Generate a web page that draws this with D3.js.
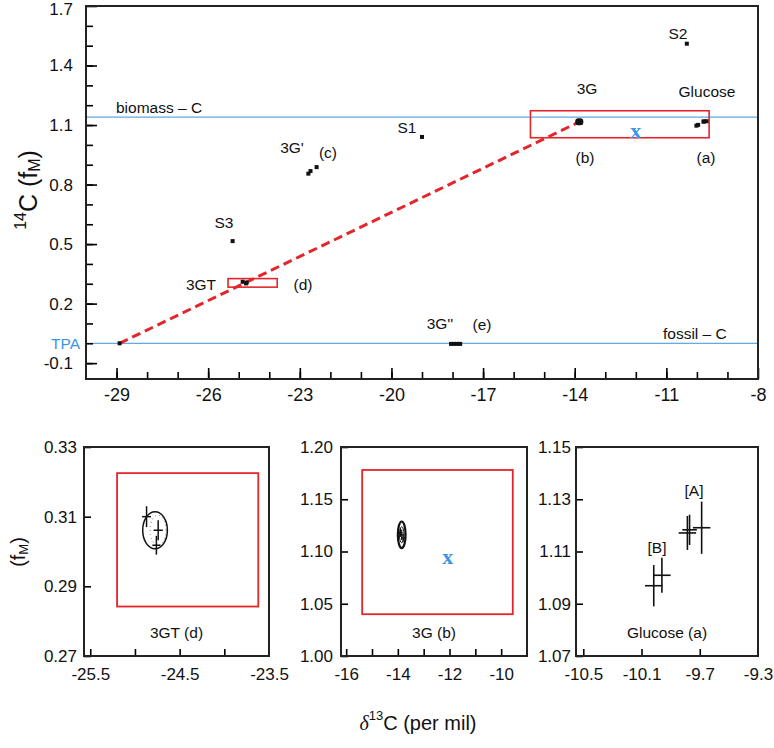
<!DOCTYPE html>
<html><head><meta charset="utf-8">
<script src="https://cdn.jsdelivr.net/npm/d3@7"></script>
<style>
body{margin:0;background:#fff}
svg text{font-family:"Liberation Sans",Arial,sans-serif;fill:#111}
</style>
</head><body>
<svg id="chart" width="774" height="748"></svg>
<script>
// ---------------- DATA ----------------
// main panel: [delta13C, 14C fM]
const tpaPts      = [[-28.9, 0.000]];
const s1Pts       = [[-19.0, 1.040]];
const s2Pts       = [[-10.33, 1.510]];
const s3Pts       = [[-25.2, 0.515]];
const g3PrimePts  = [[-22.72, 0.855], [-22.65, 0.868], [-22.45, 0.888]];
const g3DPrimePts = [[-18.05, -0.003], [-17.95, -0.003], [-17.85, -0.003], [-17.75, -0.003]];
const gt3Pts      = [[-24.87, 0.3100], [-24.74, 0.3061], [-24.76, 0.3018]];
const gt3ErrX     = [0.05, 0.052, 0.045];
const gt3ErrY     = [0.0030, 0.0029, 0.0027];
const g3Pts       = [[-13.90, 1.118], [-13.85, 1.116], [-13.80, 1.113]];
const g3ErrX      = [0.08, 0.1, 0.08];
const g3ErrY      = [0.004, 0.005, 0.004];
const glucosePts  = [[-10.016, 1.0969], [-9.96, 1.1009], [-9.785, 1.1171], [-9.77, 1.1183], [-9.687, 1.1191]];
const glucoseErrX = [0.06, 0.06, 0.06, 0.05, 0.06];
const glucoseErrY = [0.0079, 0.0067, 0.0065, 0.0058, 0.0100];

const refLines    = [{name: "biomass – C", value: 1.14}, {name: "fossil – C", value: 0.0}];
const mixingLine  = [[-28.9, 0.000], [-13.85, 1.116]];
const mainBoxes   = [[-25.35, -23.74, 0.283, 0.326], [-15.45, -9.6, 1.036, 1.172]];
const blendMain   = [-12.0, 1.071];
const blendInset  = [-12.07, 1.095];

const gt3Ellipse  = {cx: -24.775, cy: 0.3061, rx: 0.138, ry: 0.0053};
const g3Ellipse   = {cx: -13.85, cy: 1.116, rx: 0.15, ry: 0.0127};
const gt3InsetBox = [-25.2, -23.62, 0.2842, 0.3225];
const g3InsetBox  = [-15.38, -9.55, 1.04, 1.178];

// tick values
const mainXTicks  = [-29, -26, -23, -20, -17, -14, -11, -8];
const mainYTicks  = [-0.1, 0.2, 0.5, 0.8, 1.1, 1.4, 1.7];
const p1XTicks = [-25.5, -24.5, -23.5], p1XMinor = [-25.5, -25, -24.5, -24];
const p1YTicks = [0.27, 0.29, 0.31, 0.33];
const p2XTicks = [-16, -14, -12, -10], p2XMinor = [-16, -15, -14, -13, -12, -11, -10];
const p2YTicks = [1.00, 1.05, 1.10, 1.15, 1.20];
const p3XTicks = [-10.5, -10.1, -9.7, -9.3];
const p3YTicks = [1.07, 1.09, 1.11, 1.13, 1.15];

// ---------------- DRAW ----------------
const svg = d3.select("#chart");
const RED = "#e3262b", BLUE = "#3b93d8", BLUETXT = "#3d95e6";
const fmt = spec => { const f = d3.format(spec); return d => f(d).replace("−", "-"); };

// ===== main panel =====
const mx = d3.scaleLinear().domain([-30, -8]).range([86, 758]);
const my = d3.scaleLinear().domain([-0.18, 1.7]).range([379, 6]);
const main = svg.append("g");

// reference lines
main.selectAll("line.ref").data(refLines).join("line")
  .attr("x1", mx(-30)).attr("x2", mx(-8))
  .attr("y1", d => my(d.value)).attr("y2", d => my(d.value))
  .attr("stroke", BLUE).attr("stroke-width", 1);

// axes - minor
main.append("g").attr("transform", `translate(0,${my(-0.18)})`)
  .call(d3.axisBottom(mx).tickValues(d3.range(-29, -8, 1)).tickSize(-7).tickFormat(""))
  .call(g => g.select(".domain").remove())
  .selectAll("line").attr("stroke-width", 1.6);
main.append("g").attr("transform", `translate(${mx(-30)},0)`)
  .call(d3.axisLeft(my).tickValues(d3.range(-0.1, 1.7, 0.1)).tickSize(-7).tickFormat(""))
  .call(g => g.select(".domain").remove())
  .selectAll("line").attr("stroke-width", 1.6);
// major
const mxa = main.append("g").attr("transform", `translate(0,${my(-0.18)})`)
  .call(d3.axisBottom(mx).tickValues(mainXTicks).tickSize(-11).tickPadding(9).tickFormat(fmt("d")));
mxa.select(".domain").remove();
mxa.selectAll("line").attr("stroke-width", 1.6);
mxa.selectAll("text").attr("font-size", 18).attr("fill", "#111");
const mya = main.append("g").attr("transform", `translate(${mx(-30)},0)`)
  .call(d3.axisLeft(my).tickValues(mainYTicks).tickSize(-11).tickPadding(13).tickFormat(fmt(".1f")));
mya.select(".domain").remove();
mya.selectAll("line").attr("stroke-width", 1.6);
mya.selectAll("text").attr("font-size", 17).attr("fill", "#111")
  .filter(d => d === 1.7).attr("dy", "0.5em");
// frame
main.append("rect").attr("x", mx(-30)).attr("y", my(1.7))
  .attr("width", mx(-8) - mx(-30)).attr("height", my(-0.18) - my(1.7))
  .attr("fill", "none").attr("stroke", "#222").attr("stroke-width", 2);

// red boxes
main.selectAll("rect.box").data(mainBoxes).join("rect")
  .attr("x", d => mx(d[0])).attr("y", d => my(d[3]))
  .attr("width", d => mx(d[1]) - mx(d[0])).attr("height", d => my(d[2]) - my(d[3]))
  .attr("fill", "none").attr("stroke", RED).attr("stroke-width", 1.6);

// mixing line
main.append("path").datum(mixingLine)
  .attr("d", d3.line().x(d => mx(d[0])).y(d => my(d[1])))
  .attr("stroke", RED).attr("stroke-width", 3).attr("stroke-dasharray", "9,5").attr("fill", "none");

// points
const allMain = [].concat(tpaPts, s1Pts, s2Pts, s3Pts, g3PrimePts, g3DPrimePts, gt3Pts, g3Pts, glucosePts);
main.selectAll("rect.pt").data(allMain).join("rect")
  .attr("x", d => mx(d[0]) - 2).attr("y", d => my(d[1]) - 2)
  .attr("width", 4).attr("height", 4).attr("fill", "#111");
main.append("rect").attr("x", mx(g3Pts[1][0]) - 4).attr("y", my(g3Pts[1][1]) - 3.5)
  .attr("width", 8).attr("height", 7).attr("rx", 3).attr("fill", "#111");

// blend X
main.append("text").attr("x", mx(blendMain[0])).attr("y", my(blendMain[1]))
  .attr("text-anchor", "middle").attr("dominant-baseline", "central")
  .style("font-family", "'Liberation Serif',serif").style("font-weight", "bold")
  .style("fill", BLUETXT).attr("font-size", 22).text("x");

// labels
const mainLabels = [
  {t: "biomass – C", x: 116, y: 107, a: "start"},
  {t: "fossil – C", x: 663, y: 333, a: "start"},
  {t: "S3", x: 224, y: 222, a: "middle"},
  {t: "3GT", x: 201, y: 284, a: "middle"},
  {t: "(d)", x: 303, y: 284, a: "middle"},
  {t: "3G'", x: 292, y: 147, a: "middle"},
  {t: "(c)", x: 328, y: 152, a: "middle"},
  {t: "S1", x: 407, y: 127, a: "middle"},
  {t: "3G", x: 587, y: 88, a: "middle"},
  {t: "(b)", x: 585, y: 157, a: "middle"},
  {t: "Glucose", x: 707, y: 91, a: "middle"},
  {t: "(a)", x: 706, y: 157, a: "middle"},
  {t: "S2", x: 678, y: 33, a: "middle"},
  {t: "3G''", x: 440, y: 323, a: "middle"},
  {t: "(e)", x: 482, y: 324, a: "middle"}
];
main.selectAll("text.lbl").data(mainLabels).join("text")
  .attr("x", d => d.x).attr("y", d => d.y).attr("text-anchor", d => d.a)
  .attr("dominant-baseline", "central").attr("font-size", 15.5).text(d => d.t);
main.append("text").attr("x", 51).attr("y", 343).attr("dominant-baseline", "central")
  .attr("font-size", 15.5).style("fill", BLUETXT).text("TPA");

// main y label
const yl = svg.append("text").attr("transform", "translate(28,190) rotate(-90)")
  .attr("text-anchor", "middle").attr("dominant-baseline", "central").attr("font-size", 25);
yl.append("tspan").attr("font-size", 16).attr("dy", -8).text("14");
yl.append("tspan").attr("dy", 8).text("C (f");
yl.append("tspan").attr("font-size", 16).attr("dy", 6).text("M");
yl.append("tspan").attr("dy", -6).text(")");

// ===== inset panels =====
function panel(opt) {
  const x = d3.scaleLinear().domain(opt.xd).range([opt.x0, opt.x1]);
  const y = d3.scaleLinear().domain(opt.yd).range([656, 447]);
  const g = svg.append("g");
  const xa = g.append("g").attr("transform", "translate(0,656)")
    .call(d3.axisBottom(x).tickValues(opt.xMinor).tickSize(-7).tickFormat(""));
  xa.select(".domain").remove(); xa.selectAll("line").attr("stroke-width", 1.6);
  const xl = g.append("g").attr("transform", "translate(0,656)")
    .call(d3.axisBottom(x).tickValues(opt.xTicks).tickSize(0).tickPadding(12).tickFormat(opt.xf));
  xl.select(".domain").remove();
  xl.selectAll("text").attr("font-size", 17).attr("fill", "#111");
  const ya = g.append("g").attr("transform", `translate(${opt.x0},0)`)
    .call(d3.axisLeft(y).tickValues(opt.yTicks).tickSize(-7).tickPadding(opt.yPad).tickFormat(fmt(".2f")));
  ya.select(".domain").remove(); ya.selectAll("line").attr("stroke-width", 1.6);
  ya.selectAll("text").attr("font-size", 17).attr("fill", "#111");
  g.append("rect").attr("x", opt.x0).attr("y", 447).attr("width", opt.x1 - opt.x0).attr("height", 209)
    .attr("fill", "none").attr("stroke", "#222").attr("stroke-width", 2);
  g.append("text").attr("x", (opt.x0 + opt.x1) / 2).attr("y", 632).attr("text-anchor", "middle")
    .attr("dominant-baseline", "central").attr("font-size", 15.5).text(opt.label);
  return {x, y, g};
}
function crosses(p, pts, ex, ey, w) {
  const c = p.g.append("g").attr("stroke", "#111").attr("stroke-width", w);
  pts.forEach((d, i) => {
    c.append("line").attr("x1", p.x(d[0] - ex[i])).attr("x2", p.x(d[0] + ex[i]))
      .attr("y1", p.y(d[1])).attr("y2", p.y(d[1]));
    c.append("line").attr("x1", p.x(d[0])).attr("x2", p.x(d[0]))
      .attr("y1", p.y(d[1] - ey[i])).attr("y2", p.y(d[1] + ey[i]));
  });
}
function box(p, b) {
  p.g.append("rect").attr("x", p.x(b[0])).attr("y", p.y(b[3]))
    .attr("width", p.x(b[1]) - p.x(b[0])).attr("height", p.y(b[2]) - p.y(b[3]))
    .attr("fill", "none").attr("stroke", RED).attr("stroke-width", 1.8);
}
function ell(p, e, w, f) {
  p.g.append("ellipse").attr("cx", p.x(e.cx)).attr("cy", p.y(e.cy))
    .attr("rx", Math.abs(p.x(e.cx + e.rx * f) - p.x(e.cx))).attr("ry", Math.abs(p.y(e.cy + e.ry * f) - p.y(e.cy)))
    .attr("fill", "none").attr("stroke", "#111").attr("stroke-width", w);
}

// panel 1: 3GT
const p1 = panel({xd: [-25.57, -23.5], yd: [0.27, 0.33], x0: 84, x1: 269, xTicks: p1XTicks, xMinor: p1XMinor,
  yTicks: p1YTicks, yPad: 7, xf: fmt(".1f"), label: "3GT (d)"});
box(p1, gt3InsetBox);
ell(p1, gt3Ellipse, 1.5, 1);
p1.g.append("ellipse").attr("cx", p1.x(gt3Ellipse.cx) + 3).attr("cy", p1.y(gt3Ellipse.cy))
  .attr("rx", 8).attr("ry", 15).attr("fill", "none").attr("stroke", "#555").attr("stroke-width", 0.8).attr("stroke-dasharray", "1,3");
crosses(p1, gt3Pts, gt3ErrX, gt3ErrY, 1.5);

// panel 2: 3G
const p2 = panel({xd: [-16.2, -9], yd: [1.0, 1.2], x0: 341, x1: 527, xTicks: p2XTicks, xMinor: p2XMinor,
  yTicks: p2YTicks, yPad: 8, xf: fmt("d"), label: "3G (b)"});
box(p2, g3InsetBox);
ell(p2, g3Ellipse, 2.2, 1);
ell(p2, g3Ellipse, 1, 0.6);
crosses(p2, g3Pts, g3ErrX, g3ErrY, 1.2);
p2.g.append("text").attr("x", p2.x(blendInset[0])).attr("y", p2.y(blendInset[1]))
  .attr("text-anchor", "middle").attr("dominant-baseline", "central")
  .style("font-family", "'Liberation Serif',serif").style("font-weight", "bold")
  .style("fill", BLUETXT).attr("font-size", 22).text("x");

// panel 3: Glucose
const p3 = panel({xd: [-10.55, -9.3], yd: [1.07, 1.15], x0: 576, x1: 758, xTicks: p3XTicks, xMinor: p3XTicks.slice(0, 3),
  yTicks: p3YTicks, yPad: 5, xf: fmt(".1f"), label: "Glucose (a)"});
crosses(p3, glucosePts, glucoseErrX, glucoseErrY, 1.6);
p3.g.append("text").attr("x", 694).attr("y", 490).attr("text-anchor", "middle").attr("dominant-baseline", "central").attr("font-size", 15.5).text("[A]");
p3.g.append("text").attr("x", 657).attr("y", 547).attr("text-anchor", "middle").attr("dominant-baseline", "central").attr("font-size", 15.5).text("[B]");

// bottom y label
const yl2 = svg.append("text").attr("transform", "translate(18,552) rotate(-90)")
  .attr("text-anchor", "middle").attr("dominant-baseline", "central").attr("font-size", 20);
yl2.append("tspan").text("(f");
yl2.append("tspan").attr("font-size", 13).attr("dy", 5).text("M");
yl2.append("tspan").attr("dy", -5).text(")");

// x label
const xlab = svg.append("text").attr("x", 418).attr("y", 723).attr("text-anchor", "middle")
  .attr("dominant-baseline", "central").attr("font-size", 20);
xlab.append("tspan").style("font-family", "'Liberation Serif',serif").style("font-style", "italic").text("δ");
xlab.append("tspan").attr("font-size", 13).attr("dy", -8).text("13");
xlab.append("tspan").attr("dy", 8).text("C (per mil)");
</script>
</body></html>
